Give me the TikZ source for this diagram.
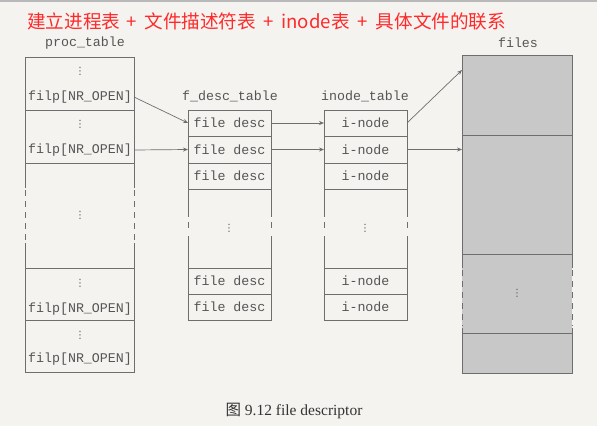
\documentclass[tikz,border=0pt]{standalone}
\usepackage{fontspec}
\setmainfont{Liberation Serif}
\setmonofont{Liberation Mono}
\newfontfamily\cjk{Noto Sans CJK SC}
\newfontfamily\dejavu{DejaVu Sans}
\usetikzlibrary{arrows.meta}
\definecolor{ln}{HTML}{6E6E6E}
\definecolor{tx}{HTML}{555555}
\definecolor{bg}{HTML}{F4F3F0}
\definecolor{filegray}{HTML}{C8C8C8}
\definecolor{titlered}{HTML}{FF2A2A}
\begin{document}
\begin{tikzpicture}[x=1pt,y=-1pt,
  cell/.style={draw=ln, line width=0.8pt, inner sep=0pt, outer sep=0pt, anchor=north west},
  blank/.style={inner sep=0pt, outer sep=0pt, anchor=north west},
  mono/.style={font=\ttfamily\fontsize{13.3}{13.3}\selectfont, text=tx, inner sep=0pt},
  dots/.style={font=\dejavu\fontsize{10}{10}\selectfont, text=tx, inner sep=0pt},
  side/.style={draw=ln, line width=0.8pt},
  dside/.style={draw=ln, line width=0.8pt, dash pattern=on 6pt off 5pt},
  arr/.style={draw=ln, line width=0.7pt, -{Stealth[length=5pt,width=4pt]}},
  ftab/.style={cell, fill=filegray, minimum width=110pt}]
\useasboundingbox (0,0) rectangle (597,426);
\fill[bg] (0,0) rectangle (597,426);
\fill[gray!55] (0,0) rectangle (597,2);

% title
\node[anchor=west, inner sep=0pt, text=titlered, font=\cjk\fontsize{18.6}{18.6}\selectfont] (title) at (27,21) {建立进程表\hspace{6pt}+\hspace{8pt}文件描述符表\hspace{7pt}+\hspace{8pt}inode表\hspace{8pt}+\hspace{8pt}具体文件的联系};

% proc_table
\node[mono] (lproc) at (85,43) {proc\_table};
\node[cell, minimum width=109pt, minimum height=53pt] (p1) at (25,57) {};
\node[cell, minimum width=109pt, minimum height=53pt] (p2) at (25,110) {};
\node[blank, minimum width=109pt, minimum height=105pt] (pm) at (25,163) {};
\node[cell, minimum width=109pt, minimum height=52pt] (p3) at (25,268) {};
\node[cell, minimum width=109pt, minimum height=52pt] (p4) at (25,320) {};
\draw[side] (25,163) -- (25,188) (134,163) -- (134,188) (25,243) -- (25,268) (134,243) -- (134,268);
\draw[dside] (25,190) -- (25,242) (134,190) -- (134,242);
\node[dots] (pd1) at (80,71) {⋮};
\node[mono] (t1) at (80,97) {filp[NR\_OPEN]};
\node[dots] (pd2) at (80,124) {⋮};
\node[mono] (t2) at (80,150) {filp[NR\_OPEN]};
\node[dots] (pdm) at (80,215) {⋮};
\node[dots] (pd3) at (80,283) {⋮};
\node[mono] (t3) at (80,309) {filp[NR\_OPEN]};
\node[dots] (pd4) at (80,335) {⋮};
\node[mono] (t4) at (80,359) {filp[NR\_OPEN]};

% f_desc_table
\node[mono] (lfd) at (230,96) {f\_desc\_table};
\node[cell, minimum width=83pt, minimum height=26pt] (d1) at (188,110) {};
\node[cell, minimum width=83pt, minimum height=27pt] (d2) at (188,136) {};
\node[cell, minimum width=83pt, minimum height=26pt] (d3) at (188,163) {};
\node[blank, minimum width=83pt, minimum height=79pt] (dm) at (188,189) {};
\node[cell, minimum width=83pt, minimum height=26pt] (d4) at (188,268) {};
\node[cell, minimum width=83pt, minimum height=26pt] (d5) at (188,294) {};
\draw[side] (188,189) -- (188,217) (271,189) -- (271,217) (188,236) -- (188,268) (271,236) -- (271,268);
\draw[dside] (188,222) -- (188,232) (271,222) -- (271,232);
\node[mono] at (d1) {file desc};
\node[mono] at (d2) {file desc};
\node[mono] at (d3) {file desc};
\node[dots] at (229,228) {⋮};
\node[mono] at (d4) {file desc};
\node[mono] at (d5) {file desc};

% inode_table
\node[mono] (lin) at (365,96) {inode\_table};
\node[cell, minimum width=83pt, minimum height=26pt] (i1) at (324,110) {};
\node[cell, minimum width=83pt, minimum height=27pt] (i2) at (324,136) {};
\node[cell, minimum width=83pt, minimum height=26pt] (i3) at (324,163) {};
\node[blank, minimum width=83pt, minimum height=79pt] (im) at (324,189) {};
\node[cell, minimum width=83pt, minimum height=26pt] (i4) at (324,268) {};
\node[cell, minimum width=83pt, minimum height=26pt] (i5) at (324,294) {};
\draw[side] (324,189) -- (324,217) (407,189) -- (407,217) (324,236) -- (324,268) (407,236) -- (407,268);
\draw[dside] (324,222) -- (324,232) (407,222) -- (407,232);
\node[mono] at (i1) {i-node};
\node[mono] at (i2) {i-node};
\node[mono] at (i3) {i-node};
\node[dots] at (365,228) {⋮};
\node[mono] at (i4) {i-node};
\node[mono] at (i5) {i-node};

% files
\node[mono] (lfiles) at (518,43) {files};
\node[ftab, minimum height=80pt] (f1) at (462,55) {};
\node[ftab, minimum height=119pt] (f2) at (462,135) {};
\fill[filegray] (462,254) rectangle (572,333);
\node[blank, minimum width=110pt, minimum height=79pt] (fm) at (462,254) {};
\node[ftab, minimum height=40pt] (f3) at (462,333) {};
\draw[side] (462,254) -- (462,268) (572,254) -- (572,268) (462,328) -- (462,333) (572,328) -- (572,333);
\draw[dside] (462,270) -- (462,326) (572,270) -- (572,326);
\draw[side] (462,254) -- (572,254);
\node[dots] at (517,293) {⋮};

% connectors
\coordinate (fin1) at ([yshift=-15pt]f1.north west);
\draw[arr] (p1.east |- t1) -- (d1.west);
\draw[arr] (p2.east |- t2) -- (d2.west);
\draw[arr] (d1.east) -- (i1.west);
\draw[arr] (d2.east) -- (i2.west);
\draw[arr] (i1.east) -- (fin1);
\draw[arr] (i2.east) -- (f2.west |- i2.east);

% caption
\node[inner sep=0pt, text=black!80, font=\fontsize{15.5}{15.5}\selectfont] (cap) at (294,411) {{\cjk 图} 9.12 file descriptor};
\end{tikzpicture}
\end{document}
